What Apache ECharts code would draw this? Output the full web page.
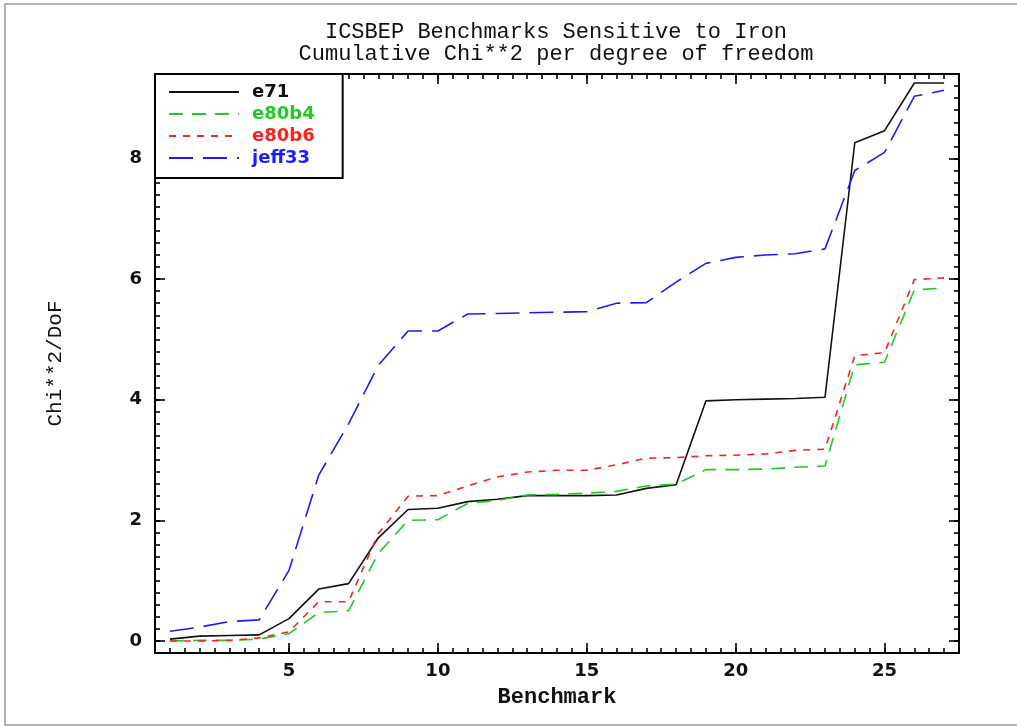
<!DOCTYPE html>
<html>
<head>
<meta charset="utf-8">
<script src="https://cdn.jsdelivr.net/npm/echarts@6/dist/echarts.min.js"></script>
<style>html,body{margin:0;padding:0;background:#fff;}#c{width:1017px;height:727px;}</style>
</head>
<body>
<div id="c"></div>
<script>
const benchmarks = [1,2,3,4,5,6,7,8,9,10,11,12,13,14,15,16,17,18,19,20,21,22,23,24,25,26,27];
const e71    = [0.03,0.08,0.09,0.10,0.37,0.86,0.95,1.71,2.18,2.20,2.31,2.35,2.41,2.41,2.41,2.42,2.53,2.59,3.98,4.00,4.01,4.02,4.04,8.26,8.46,9.25,9.25];
const e80b4  = [0.00,0.01,0.01,0.03,0.12,0.47,0.50,1.45,2.00,2.01,2.28,2.33,2.42,2.43,2.45,2.48,2.57,2.60,2.84,2.84,2.85,2.88,2.90,4.58,4.62,5.82,5.85];
const e80b6  = [0.00,0.00,0.01,0.05,0.15,0.65,0.65,1.78,2.40,2.41,2.57,2.72,2.80,2.83,2.83,2.92,3.03,3.04,3.07,3.08,3.10,3.16,3.18,4.73,4.78,5.99,6.02];
const jeff33 = [0.16,0.23,0.32,0.35,1.17,2.75,3.60,4.57,5.14,5.14,5.42,5.43,5.44,5.45,5.46,5.60,5.61,5.95,6.26,6.36,6.40,6.42,6.50,7.80,8.10,9.03,9.13];
const xMajorTicks = [5,10,15,20,25];
const yMajorTicks = [0,2,4,6,8];
const titleLines = ['ICSBEP Benchmarks Sensitive to Iron','Cumulative Chi**2 per degree of freedom'];

const pairs = v => benchmarks.map((b,i)=>[b, v[i]]);
const tickFont = {fontFamily:'DejaVu Sans', fontWeight:'bold', fontSize:18, color:'#111'};
const mono = 'Liberation Mono';

function xAx(pos, major, showLabel){
  return {
    type:'value', position:pos, min:0.5, max:27.5,
    interval: major ? 5 : 0.5,
    axisLine:{show:true, onZero:false, lineStyle:{color:'#000', width:2}},
    axisTick:{show:true, inside:true, length: major?10:5, lineStyle:{color:'#000', width:1.6},
      customValues: major ? xMajorTicks : undefined},
    axisLabel:{show:showLabel, margin:9, ...tickFont, customValues: major ? xMajorTicks : undefined},
    splitLine:{show:false},
    name: showLabel ? 'Benchmark' : '', nameLocation:'middle', nameGap:33,
    nameTextStyle:{fontFamily:mono, fontSize:22, fontWeight:'bold', color:'#111'}
  };
}
function yAx(pos, major, showLabel){
  return {
    type:'value', position:pos, min:-0.2, max:9.4,
    interval: major ? 2 : 0.2,
    axisLine:{show:true, onZero:false, lineStyle:{color:'#000', width:2}},
    axisTick:{show:true, inside:true, length: major?10:5, lineStyle:{color:'#000', width:1.6},
      customValues: major ? yMajorTicks : undefined},
    axisLabel:{show:showLabel, margin:13, ...tickFont, customValues: major ? yMajorTicks : undefined},
    splitLine:{show:false},
    name: showLabel ? 'Chi**2/DoF' : '', nameLocation:'middle', nameGap:89,
    nameTextStyle:{fontFamily:mono, fontSize:21, color:'#111'}
  };
}

const chart = echarts.init(document.getElementById('c'), null, {renderer:'canvas'});
chart.setOption({
  animation:false,
  backgroundColor:'#fff',
  grid:{left:155, right:58, top:74, bottom:74, containLabel:false},
  xAxis:[xAx('bottom',false,false), xAx('bottom',true,true), xAx('top',false,false), xAx('top',true,false)],
  yAxis:[yAx('left',false,false), yAx('left',true,true), yAx('right',false,false), yAx('right',true,false)],
  legend:{
    left:155, top:74, orient:'vertical', itemWidth:70, itemHeight:14, itemGap:4,
    padding:[9,28,11,13], borderColor:'#000', borderWidth:2, backgroundColor:'#fff',
    itemStyle:{opacity:0},
    textStyle:{fontFamily:'DejaVu Sans', fontWeight:'bold', fontSize:18, padding:[0,0,0,8]},
    data:[
      {name:'e71', textStyle:{color:'#111'}},
      {name:'e80b4', textStyle:{color:'#1fcc1f'}},
      {name:'e80b6', textStyle:{color:'#ff2020'}},
      {name:'jeff33', textStyle:{color:'#1a1aff'}}
    ]
  },
  graphic:[
    {type:'polyline', silent:true, shape:{points:[[1017,4],[5,4],[5,725],[1017,725]]}, style:{stroke:'#9a9a9a', lineWidth:1.5, fill:null}},
    {type:'text', x:556, y:32, style:{text:titleLines[0], fontFamily:mono, fontSize:22, fill:'#111', textAlign:'center', textVerticalAlign:'middle'}},
    {type:'text', x:556, y:54, style:{text:titleLines[1], fontFamily:mono, fontSize:22, fill:'#111', textAlign:'center', textVerticalAlign:'middle'}}
  ],
  series:[
    {name:'e71', type:'line', xAxisIndex:0, yAxisIndex:0, data:pairs(e71), symbol:'none', color:'#111',
      lineStyle:{color:'#111', width:1.6, type:'solid'}},
    {name:'e80b4', type:'line', xAxisIndex:0, yAxisIndex:0, data:pairs(e80b4), symbol:'none', color:'#1fcc1f',
      lineStyle:{color:'#1fcc1f', width:1.6, type:[14,9]}},
    {name:'e80b6', type:'line', xAxisIndex:0, yAxisIndex:0, data:pairs(e80b6), symbol:'none', color:'#ff2020',
      lineStyle:{color:'#ff2020', width:1.6, type:[7,7]}},
    {name:'jeff33', type:'line', xAxisIndex:0, yAxisIndex:0, data:pairs(jeff33), symbol:'none', color:'#1a1aff',
      lineStyle:{color:'#1a1aff', width:1.6, type:[24,10]}}
  ]
});
</script>
</body>
</html>
